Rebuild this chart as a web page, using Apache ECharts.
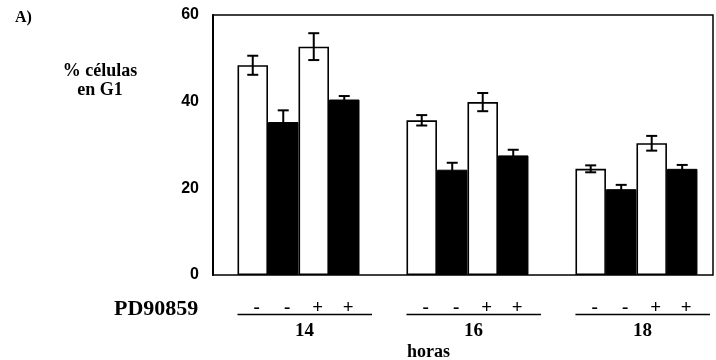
<!DOCTYPE html>
<html>
<head>
<meta charset="utf-8">
<script src="https://cdn.jsdelivr.net/npm/echarts@6/dist/echarts.min.js"></script>
<style>
  html, body { margin: 0; padding: 0; background: #fff; }
  #chart { width: 716px; height: 360px; }
</style>
</head>
<body>
<div id="chart"></div>
<script>
// horas (grupos) y tratamiento PD90859 por barra
const horas = ['14', '16', '18'];
const horasPos = [1, 2, 3];
const pdSignos = ['-', '-', '+', '+'];

// % de células en G1 (blanco/negro, sin y con PD90859)
const blancoSin = [48.4, 35.7, 24.5];
const negroSin = [35.3, 24.3, 19.8];
const blancoCon = [52.7, 39.9, 30.4];
const negroCon = [40.5, 27.6, 24.5];

// barras de error
const errBlancoSin = [2.2, 1.2, 0.8];
const errNegroSin = [2.7, 1.6, 1.0];
const errBlancoCon = [3.1, 2.1, 1.7];
const errNegroCon = [0.8, 1.3, 0.9];

const yTicks = [0, 20, 40, 60];

const barW = 30.5;
const serif = '"Liberation Serif", "DejaVu Serif", serif';
const sans = '"Liberation Sans", Arial, sans-serif';

const valores = [blancoSin, negroSin, blancoCon, negroCon];
const errores = [errBlancoSin, errNegroSin, errBlancoCon, errNegroCon];
const blanco = [true, false, true, false];

function barSeries(k) {
    return {
        name: 'serie' + k,
        type: 'bar',
        barWidth: barW,
        barGap: '0%',
        data: horasPos.map((x, i) => [x, valores[k][i]]),
        itemStyle: blanco[k]
            ? { color: '#fff', borderColor: '#000', borderWidth: 1.6 }
            : { color: '#000', borderColor: '#000', borderWidth: 1 },
        z: 2
    };
}

// datos de error: [x, valor, error, posicion en el grupo]
const errData = [];
valores.forEach((serie, k) => {
    serie.forEach((v, i) => errData.push([horasPos[i], v, errores[k][i], k]));
});

const chart = echarts.init(document.getElementById('chart'));

const option = {
    animation: false,
    grid: {
        left: 213, right: 3, top: 15, bottom: 85,
        show: true, borderColor: '#000', borderWidth: 1.5,
        backgroundColor: 'transparent'
    },
    xAxis: {
        type: 'value',
        min: 0.494, max: 3.453,
        axisLine: { show: false },
        axisTick: { show: false },
        axisLabel: { show: false },
        splitLine: { show: false }
    },
    yAxis: {
        type: 'value',
        min: yTicks[0], max: yTicks[yTicks.length - 1], interval: 20,
        axisLine: { show: true, lineStyle: { color: '#000', width: 2 } },
        axisTick: { show: false },
        splitLine: { show: false },
        axisLabel: {
            color: '#000', fontFamily: sans, fontWeight: 'bold', fontSize: 16, margin: 14
        }
    },
    series: [
        barSeries(0), barSeries(1), barSeries(2), barSeries(3),
        {
            // barras de error
            type: 'custom',
            data: errData,
            z: 5,
            clip: false,
            renderItem(params, api) {
                const x = api.value(0), v = api.value(1), e = api.value(2), k = api.value(3);
                const dx = (k - 1.5) * barW;
                const top = api.coord([x, v + e]);
                const bot = api.coord([x, v - e]);
                const cx = top[0] + dx;
                const cap = 5.5;
                const st = { stroke: '#000', lineWidth: 2 };
                return {
                    type: 'group',
                    children: [
                        { type: 'line', shape: { x1: cx, y1: top[1], x2: cx, y2: bot[1] }, style: st },
                        { type: 'line', shape: { x1: cx - cap, y1: top[1], x2: cx + cap, y2: top[1] }, style: st },
                        { type: 'line', shape: { x1: cx - cap, y1: bot[1], x2: cx + cap, y2: bot[1] }, style: st }
                    ]
                };
            }
        },
        {
            // signos PD90859 y horas debajo del eje
            type: 'custom',
            data: horasPos.map(x => [x, 0]),
            z: 5,
            clip: false,
            silent: true,
            renderItem(params, api) {
                const base = api.coord([api.value(0), 0]);
                const c = base[0], y0 = base[1];
                const children = [
                    { type: 'line', shape: { x1: c - 61, y1: y0 + 39.5, x2: c + 73.5, y2: y0 + 39.5 },
                      style: { stroke: '#000', lineWidth: 1.3 } },
                    { type: 'text', x: c + 6, y: y0 + 56,
                      style: { text: horas[params.dataIndex], font: 'bold 19px ' + serif,
                               fill: '#000', align: 'center', verticalAlign: 'middle' } }
                ];
                pdSignos.forEach((s, k) => {
                    children.push({
                        type: 'text', x: c + (k - 1.5) * barW + 4, y: y0 + 33,
                        style: { text: s, font: 'bold 19px ' + serif, fill: '#000',
                                 align: 'center', verticalAlign: 'middle' }
                    });
                });
                return { type: 'group', children };
            }
        }
    ],
    graphic: [
        { type: 'text', x: 15, y: 10,
          style: { text: 'A)', font: 'bold 16px ' + serif, fill: '#000' } },
        { type: 'text', x: 100, y: 62,
          style: { text: '% células\nen G1', font: 'bold 18px ' + serif, fill: '#000',
                   align: 'center', lineHeight: 19 } },
        { type: 'text', x: 114, y: 298,
          style: { text: 'PD90859', font: 'bold 22px ' + serif, fill: '#000' } },
        { type: 'text', x: 407, y: 343,
          style: { text: 'horas', font: 'bold 18px ' + serif, fill: '#000' } }
    ]
};

chart.setOption(option);
</script>
</body>
</html>
